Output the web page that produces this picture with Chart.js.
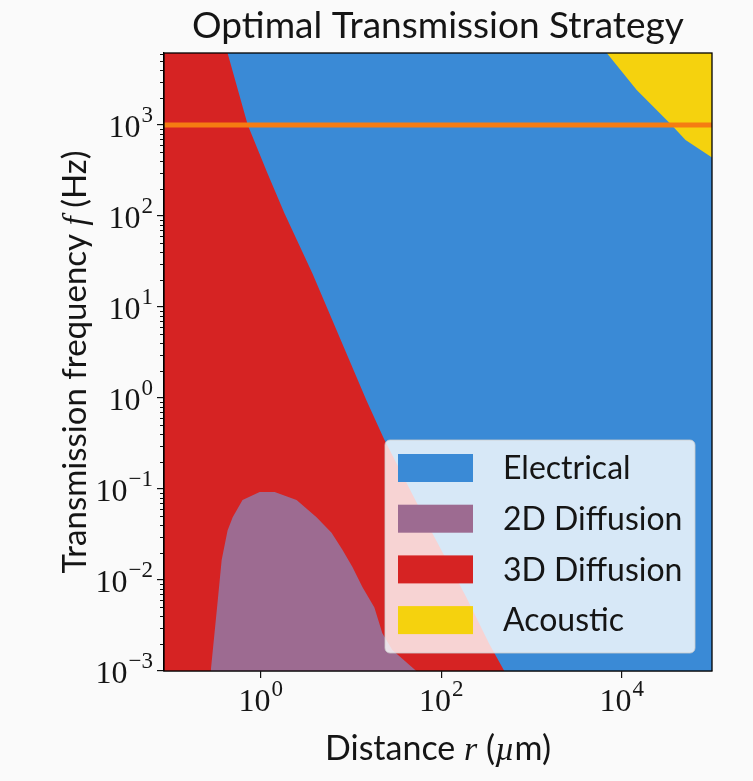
<!DOCTYPE html>
<html>
<head>
<meta charset="utf-8">
<title>Optimal Transmission Strategy</title>
<script src="https://cdn.jsdelivr.net/npm/chart.js@4.4.1/dist/chart.umd.min.js"></script>
<style>
  html, body { margin: 0; background: #fafafa; }
  canvas { display: block; }
</style>
</head>
<body>
<canvas id="strategy" width="753" height="781"></canvas>
<script>
// axis ranges: distance r in µm, frequency f in Hz
const rLimits = [0.085, 1e5];
const fLimits = [1e-3, 6200];

const xTickValues = [1, 1e2, 1e4];
const xTickExps = ['0', '2', '4'];
const yTickValues = [1e-3, 1e-2, 1e-1, 1, 10, 100, 1000];
const yTickExps = ['−3', '−2', '−1', '0', '1', '2', '3'];

// region boundaries
const electricalR = [0.085, 1e5];
const electricalF = [6200, 6200];

const diff3dR = [0.085, 0.43, 0.72, 1.19, 1.84, 3.76, 14.8, 23.4, 77, 189, 339, 500];
const diff3dF = [6200, 6200, 1000, 295, 107, 23.3, 0.95, 0.35, 0.035, 0.0065, 0.002, 0.001];

const diff2dR = [0.28, 0.335, 0.37, 0.43, 0.49, 0.63, 0.975, 1.43, 2.5, 4.16, 6.1, 8.05, 10.4, 13.4, 18.2, 22.3, 28.8, 53];
const diff2dF = [0.001, 0.006, 0.0166, 0.035, 0.049, 0.076, 0.093, 0.093, 0.076, 0.049, 0.033, 0.0215, 0.0139, 0.0084, 0.005, 0.0026, 0.0017, 0.001];

const acousticR = [6830, 14650, 35650, 50900, 1e5];
const acousticF = [6200, 2430, 1000, 684, 440];

const cutoffR = [0.085, 1e5];
const cutoffF = [1000, 1000];

const COLORS = {
    electrical: '#3a8ad6',
    diff2d: '#9d6b91',
    diff3d: '#d62323',
    acoustic: '#f5d20e',
    cutoff: '#f57c12'
};

const SANS = 'Lato, "Open Sans", sans-serif';
const SERIF = '"Liberation Serif", "DejaVu Serif", serif';

const toPoints = (xs, ys) => xs.map((x, i) => ({ x: x, y: ys[i] }));

function region(label, xs, ys, color, fill, order) {
    return {
        label: label,
        data: toPoints(xs, ys),
        showLine: true,
        borderWidth: 0,
        borderColor: color,
        backgroundColor: color,
        pointRadius: 0,
        fill: fill,
        order: order
    };
}

// draws "10" with a raised exponent
function drawPower(ctx, exp, px, baseline, align) {
    ctx.font = '32px ' + SERIF;
    const wb = ctx.measureText('10').width;
    ctx.font = '23px ' + SERIF;
    const we = ctx.measureText(exp).width;
    const total = wb + 1 + we;
    const x0 = align === 'center' ? px - total / 2 : px - total;
    ctx.textAlign = 'left';
    ctx.textBaseline = 'alphabetic';
    ctx.font = '32px ' + SERIF;
    ctx.fillText('10', x0, baseline);
    ctx.font = '23px ' + SERIF;
    ctx.fillText(exp, x0 + wb + 1, baseline - 15);
}

// mixed text/math label, centred on cx
function drawSegments(ctx, segs, cx, baseline) {
    const widths = segs.map(s => { ctx.font = s[1]; return ctx.measureText(s[0]).width; });
    let x = cx - widths.reduce((a, b) => a + b, 0) / 2;
    ctx.textAlign = 'left';
    ctx.textBaseline = 'alphabetic';
    segs.forEach((s, i) => {
        ctx.font = s[1];
        ctx.fillText(s[0], x, baseline);
        x += widths[i];
    });
}

const axisDecor = {
    id: 'axisDecor',
    afterDatasetsDraw(chart) {
        const { ctx, chartArea: a, scales } = chart;
        ctx.save();
        // minor ticks on the frequency axis
        ctx.strokeStyle = '#111';
        ctx.lineWidth = 1;
        for (let d = -3; d <= 3; d++) {
            for (let m = 2; m <= 9; m++) {
                const v = m * Math.pow(10, d);
                if (v > fLimits[1]) continue;
                const py = Math.round(scales.y.getPixelForValue(v)) + 0.5;
                ctx.beginPath();
                ctx.moveTo(a.left - 4, py);
                ctx.lineTo(a.left, py);
                ctx.stroke();
            }
        }
        // full frame round the plot
        ctx.lineWidth = 1.3;
        ctx.strokeStyle = '#000';
        ctx.strokeRect(a.left, a.top, a.right - a.left, a.bottom - a.top);
        ctx.restore();
    },
    afterDraw(chart) {
        const { ctx, chartArea: a, scales } = chart;
        ctx.save();
        ctx.fillStyle = '#151515';
        xTickValues.forEach((v, i) => drawPower(ctx, xTickExps[i], scales.x.getPixelForValue(v), a.bottom + 40, 'center'));
        yTickValues.forEach((v, i) => drawPower(ctx, yTickExps[i], a.left - 11, scales.y.getPixelForValue(v) + 12, 'right'));

        drawSegments(ctx, [
            ['Distance ', '34px ' + SANS],
            ['r', 'italic 34px ' + SERIF],
            [' (', '34px ' + SANS],
            ['µ', 'italic 34px ' + SERIF],
            ['m)', '34px ' + SANS]
        ], (a.left + a.right) / 2, a.bottom + 89);

        ctx.translate(86, (a.top + a.bottom) / 2);
        ctx.rotate(-Math.PI / 2);
        drawSegments(ctx, [
            ['Transmission frequency ', '33px ' + SANS],
            ['f', 'italic 33px ' + SERIF],
            [' (Hz)', '33px ' + SANS]
        ], 0, 0);
        ctx.restore();

        // legend box in the lower right corner
        const items = chart.data.datasets.filter(ds => ds.label);
        const w = 310, rowH = 50.7, h = 213;
        const x0 = a.right - 17 - w, y0 = a.bottom - 18 - h;
        ctx.save();
        ctx.beginPath();
        ctx.roundRect(x0, y0, w, h, 5);
        ctx.fillStyle = 'rgba(255,255,255,0.8)';
        ctx.fill();
        ctx.strokeStyle = 'rgba(204,204,204,0.8)';
        ctx.lineWidth = 1;
        ctx.stroke();
        ctx.font = '32px ' + SANS;
        ctx.textBaseline = 'middle';
        ctx.textAlign = 'left';
        items.forEach((ds, i) => {
            const cy = y0 + 28 + i * rowH;
            ctx.fillStyle = ds.backgroundColor;
            ctx.fillRect(x0 + 13, cy - 14, 75, 28);
            ctx.fillStyle = '#151515';
            ctx.fillText(ds.label, x0 + 118, cy + 1);
        });
        ctx.restore();
    }
};

new Chart(document.getElementById('strategy'), {
    type: 'scatter',
    data: {
        datasets: [
            region('Electrical', electricalR, electricalF, COLORS.electrical, 'start', 4),
            region('2D Diffusion', diff2dR, diff2dF, COLORS.diff2d, 'start', 2),
            region('3D Diffusion', diff3dR, diff3dF, COLORS.diff3d, 'start', 3),
            region('Acoustic', acousticR, acousticF, COLORS.acoustic, 'end', 1),
            {
                label: '',
                data: toPoints(cutoffR, cutoffF),
                showLine: true,
                borderColor: COLORS.cutoff,
                borderWidth: 5,
                pointRadius: 0,
                fill: false,
                clip: 0,
                order: 0
            }
        ]
    },
    options: {
        responsive: false,
        animation: false,
        devicePixelRatio: 1,
        layout: { padding: { left: 0, right: 41, top: 0, bottom: 0 } },
        plugins: {
            legend: { display: false },
            tooltip: { enabled: false },
            title: {
                display: true,
                fullSize: false,
                text: 'Optimal Transmission Strategy',
                color: '#151515',
                font: { family: SANS, size: 37, weight: 'normal' },
                padding: { top: 4, bottom: 4.6 }
            }
        },
        scales: {
            x: {
                type: 'logarithmic',
                min: rLimits[0],
                max: rLimits[1],
                afterBuildTicks: scale => { scale.ticks = xTickValues.map(v => ({ value: v })); },
                afterFit: scale => { scale.height = 110; },
                ticks: { display: false },
                grid: { drawOnChartArea: false, drawTicks: true, tickLength: 7, color: '#111', lineWidth: 1.2 },
                border: { display: true, color: '#000', width: 1.3 }
            },
            y: {
                type: 'logarithmic',
                min: fLimits[0],
                max: fLimits[1],
                afterBuildTicks: scale => { scale.ticks = yTickValues.map(v => ({ value: v })); },
                afterFit: scale => { scale.width = 164; },
                ticks: { display: false },
                grid: { drawOnChartArea: false, drawTicks: true, tickLength: 7, color: '#111', lineWidth: 1.2 },
                border: { display: true, color: '#000', width: 1.3 }
            }
        }
    },
    plugins: [axisDecor]
});
</script>
</body>
</html>
